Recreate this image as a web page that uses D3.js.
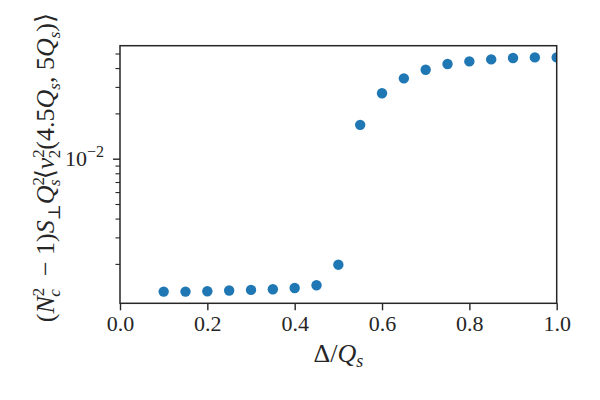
<!DOCTYPE html>
<html><head><meta charset="utf-8">
<script src="https://cdn.jsdelivr.net/npm/d3@7"></script>
<style>body{margin:0;background:#fff}</style>
</head><body><svg id="c" width="600" height="400"></svg>
<script>
const deltaOverQs = [0.10,0.15,0.20,0.25,0.30,0.35,0.40,0.45,0.50,0.55,0.60,0.65,0.70,0.75,0.80,0.85,0.90,0.95,1.00];
const v2Values = [1.309e-3,1.309e-3,1.315e-3,1.330e-3,1.343e-3,1.356e-3,1.384e-3,1.442e-3,1.976e-3,1.679e-2,2.72e-2,3.42e-2,3.90e-2,4.26e-2,4.43e-2,4.57e-2,4.67e-2,4.71e-2,4.71e-2];
const xTickValues = [0,0.2,0.4,0.6,0.8,1.0];
const xTickLabels = ["0.0","0.2","0.4","0.6","0.8","1.0"];
const yMajorTicks = [0.01];
const yMajorExponents = ["−2"];

const FONT = "'Liberation Serif', 'DejaVu Serif', serif";
const INK = "#262626";
const L = 120, R = 556.7, T = 45.7, B = 303.3;

const svg = d3.select("#c");

const x = d3.scaleLinear().domain([0, 1]).range([L, R]);
const lo = Math.log10(d3.min(v2Values)), hi = Math.log10(d3.max(v2Values));
const pad = (hi - lo) * 0.05;
const y = d3.scaleLog().domain([Math.pow(10, lo - pad), Math.pow(10, hi + pad)]).range([B, T]);

svg.append("defs").append("clipPath").attr("id", "clip")
  .append("rect").attr("x", L).attr("y", T).attr("width", R - L).attr("height", B - T);

// points
svg.append("g").attr("clip-path", "url(#clip)")
  .selectAll("circle").data(deltaOverQs).join("circle")
  .attr("cx", d => x(d))
  .attr("cy", (d, i) => y(v2Values[i]))
  .attr("r", 5.2)
  .attr("fill", "#1f77b4");

// frame
svg.append("rect").attr("x", L).attr("y", T).attr("width", R - L).attr("height", B - T)
  .attr("fill", "none").attr("stroke", INK).attr("stroke-width", 1.5);

// x axis
const gx = svg.append("g").attr("transform", `translate(0,${B})`)
  .call(d3.axisBottom(x).tickValues(xTickValues).tickFormat((d, i) => xTickLabels[i]).tickSize(7).tickPadding(5));
gx.select(".domain").remove();
gx.selectAll(".tick line").attr("stroke", INK).attr("stroke-width", 1.4);
gx.selectAll(".tick text").attr("font-family", FONT).attr("font-size", 22).attr("fill", INK);

// y axis minor
const minorTicks = y.ticks().filter(v => Math.abs(Math.log10(v) - Math.round(Math.log10(v))) > 1e-9);
const gyMinor = svg.append("g").attr("transform", `translate(${L},0)`)
  .call(d3.axisLeft(y).tickValues(minorTicks).tickFormat("").tickSize(4.5));
gyMinor.select(".domain").remove();
gyMinor.selectAll(".tick line").attr("stroke", INK).attr("stroke-width", 1.1);

// y axis major
const gy = svg.append("g").attr("transform", `translate(${L},0)`)
  .call(d3.axisLeft(y).tickValues(yMajorTicks).tickFormat("").tickSize(7).tickPadding(5));
gy.select(".domain").remove();
gy.selectAll(".tick line").attr("stroke", INK).attr("stroke-width", 1.4);
gy.selectAll(".tick").each(function(d, i) {
  const t = d3.select(this).append("text")
    .attr("x", -16).attr("dy", "0.32em")
    .attr("text-anchor", "end")
    .attr("font-family", FONT).attr("font-size", 22).attr("fill", INK);
  t.append("tspan").text("10");
  t.append("tspan").attr("dy", -9).attr("font-size", 16).text(yMajorExponents[i]);
});

// x label
const xl = svg.append("text").attr("x", (L + R) / 2).attr("y", 362)
  .attr("text-anchor", "middle").attr("font-family", FONT).attr("font-size", 26).attr("fill", INK);
xl.append("tspan").text("Δ/");
xl.append("tspan").attr("font-style", "italic").text("Q");
xl.append("tspan").attr("font-style", "italic").attr("font-size", 18).attr("dy", 5).text("s");

// y label
const segs = [
  {t: "("},
  {t: "N", i: 1},
  {t: "2", sup: 1},
  {t: "c", sub: 1, i: 1, back: 9},
  {t: "  − 1)", base: 1},
  {t: "S", i: 1},
  {t: "⊥", sub: 1},
  {t: "Q", i: 1, base: 1},
  {t: "2", sup: 1},
  {t: "s", sub: 1, i: 1, back: 9},
  {t: "⟨", base: 1},
  {t: "v", i: 1},
  {t: "2", sup: 1},
  {t: "2", sub: 1, back: 9},
  {t: "(4.5", base: 1},
  {t: "Q", i: 1},
  {t: "s", sub: 1, i: 1},
  {t: ", 5", base: 1},
  {t: "Q", i: 1},
  {t: "s", sub: 1, i: 1},
  {t: ")⟩", base: 1}
];
const yl = svg.append("text")
  .attr("transform", `translate(54,${(T + B) / 2 - 7}) rotate(-90)`)
  .attr("text-anchor", "middle").attr("font-family", FONT).attr("font-size", 26).attr("fill", INK)
  .attr("xml:space", "preserve").style("white-space", "pre");
let cur = 0;
segs.forEach(s => {
  const sp = yl.append("tspan").text(s.t);
  let target = cur;
  if (s.sup) target = -10;
  else if (s.sub) target = 6;
  else if (s.base) target = 0;
  if (target !== cur) sp.attr("dy", target - cur);
  cur = target;
  if (s.sup || s.sub) sp.attr("font-size", 17);
  if (s.i) sp.attr("font-style", "italic");
  if (s.back) sp.attr("dx", -s.back);
});
</script></body></html>
